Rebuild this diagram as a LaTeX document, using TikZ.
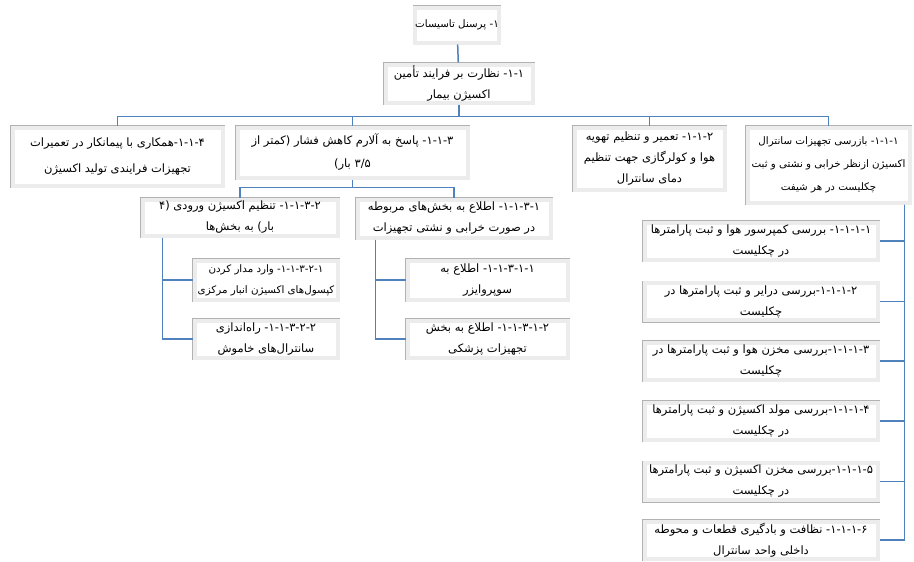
\documentclass[tikz,border=0pt]{standalone}
\usepackage{fontspec}
\usepackage[]{xcolor}
\usepackage{tikz}
\TeXXeTstate=1
\newfontfamily\fa[Script=Arabic]{DejaVu Sans}
\definecolor{linkblue}{RGB}{79,129,189}
\tikzset{
    bevel/.style={preaction={draw=gray!60, line width=5pt}, draw=gray!15, line width=4pt,
        fill=white, align=center, inner sep=0pt, font={\fa\fontsize{11.5}{21}\selectfont}},
    tight/.style={font={\fa\fontsize{10.3}{21}\selectfont}},
    link/.style={draw=linkblue, line width=1.5pt}
}

\begin{document}
\begin{tikzpicture}[x=1pt, y=-1pt]
    \path[use as bounding box, fill=white] (0,0) rectangle (914,562);
    \node[bevel, tight, minimum width=81, minimum height=35] (root) at (457,25) {\beginR ۱- پرسنل تاسیسات\endR};
    \node[bevel, minimum width=147, minimum height=38] (n11) at (459,83.5) {\beginR ۱-۱- نظارت بر فرایند تأمین\endR\\\beginR اکسیژن بیمار\endR};
    \node[bevel, minimum width=210, minimum height=58] (n114) at (117.5,156.5) {\beginR ۱-۱-۴-همکاری با پیمانکار در تعمیرات\endR\\[5pt]\beginR تجهیزات فرایندی تولید اکسیژن\endR};
    \node[bevel, minimum width=230, minimum height=50] (n113) at (352.5,152.5) {\beginR ۱-۱-۳- پاسخ به آلارم کاهش فشار (کمتر از\endR\\[2pt]\beginR ۳/۵ بار)\endR};
    \node[bevel, minimum width=150, minimum height=62] (n112) at (649.5,158.5) {\beginR ۱-۱-۲- تعمیر و تنظیم تهویه\endR\\\beginR هوا و کولرگازی جهت تنظیم\endR\\\beginR دمای سانترال\endR};
    \node[bevel, tight, minimum width=162, minimum height=75] (n111) at (828.5,165) {\beginR ۱-۱-۱- بازرسی تجهیزات سانترال\endR\\[2pt]\beginR اکسیژن ازنظر خرابی و نشتی و ثبت\endR\\[2pt]\beginR چکلیست در هر شیفت\endR};

    \node[bevel, minimum width=195, minimum height=36] (n1132) at (240,217.5) {\beginR ۱-۱-۳-۲- تنظیم اکسیژن ورودی (۴\endR\\\beginR بار) به بخش^^^^200cها\endR};
    \node[bevel, minimum width=193, minimum height=38] (n1131) at (454,218.5) {\beginR ۱-۱-۳-۱- اطلاع به بخش^^^^200cهای مربوطه\endR\\\beginR در صورت خرابی و نشتی تجهیزات\endR};
    \node[bevel, tight, minimum width=143, minimum height=39] (n11321) at (266,280) {\beginR ۱-۱-۳-۲-۱- وارد مدار کردن\endR\\\beginR کپسول^^^^200cهای اکسیژن انبار مرکزی\endR};
    \node[bevel, minimum width=143, minimum height=37] (n11322) at (266,339) {\beginR ۱-۱-۳-۲-۲- راه^^^^200cاندازی\endR\\\beginR سانترال^^^^200cهای خاموش\endR};
    \node[bevel, minimum width=160, minimum height=39] (n11311) at (487.5,280) {\beginR ۱-۱-۳-۱-۱- اطلاع به\endR\\\beginR سوپروایزر\endR};
    \node[bevel, minimum width=160, minimum height=37] (n11312) at (487.5,339) {\beginR ۱-۱-۳-۱-۲- اطلاع به بخش\endR\\\beginR تجهیزات پزشکی\endR};

    \node[bevel, minimum width=233, minimum height=37] (n1111) at (761,241) {\beginR ۱-۱-۱-۱- بررسی کمپرسور هوا و ثبت پارامترها\endR\\\beginR در چکلیست\endR};
    \node[bevel, minimum width=233, minimum height=37] (n1112) at (761,301.5) {\beginR ۱-۱-۱-۲-بررسی درایر و ثبت پارامترها در\endR\\\beginR چکلیست\endR};
    \node[bevel, minimum width=233, minimum height=37] (n1113) at (761,361) {\beginR ۱-۱-۱-۳-بررسی مخزن هوا و ثبت پارامترها در\endR\\\beginR چکلیست\endR};
    \node[bevel, minimum width=233, minimum height=37] (n1114) at (761,421) {\beginR ۱-۱-۱-۴-بررسی مولد اکسیژن و ثبت پارامترها\endR\\\beginR در چکلیست\endR};
    \node[bevel, minimum width=233, minimum height=37] (n1115) at (761,481.5) {\beginR ۱-۱-۱-۵-بررسی مخزن اکسیژن و ثبت پارامترها\endR\\\beginR در چکلیست\endR};
    \node[bevel, minimum width=233, minimum height=37] (n1116) at (761,540) {\beginR ۱-۱-۱-۶- نظافت و بادگیری قطعات و محوطه\endR\\\beginR داخلی واحد سانترال\endR};

    \draw[link] (root) -- (n11);
    \foreach \kid in {n114,n113,n112,n111}
        \draw[link] (n11.south) -- ++(0,12) -| (\kid.north);
    \foreach \kid in {n1132,n1131}
        \draw[link] (n113.south) -- ++(0,8) -| (\kid.north);
    \foreach \kid in {n11321,n11322}
        \draw[link] ([xshift=22]n1132.south west) |- (\kid.west);
    \foreach \kid in {n11311,n11312}
        \draw[link] ([xshift=20]n1131.south west) |- (\kid.west);
    \foreach \kid in {n1111,n1112,n1113,n1114,n1115,n1116}
        \draw[link] ([xshift=-7]n111.south east) |- (\kid.east);
\end{tikzpicture}
\end{document}
